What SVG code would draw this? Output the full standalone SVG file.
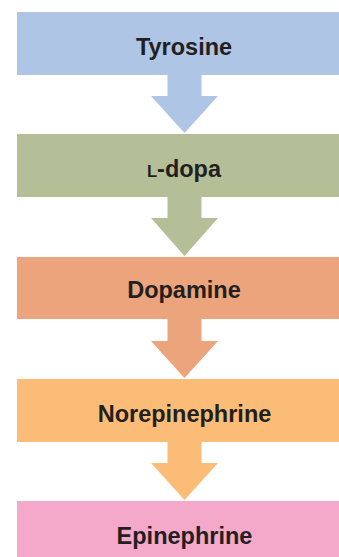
<svg xmlns="http://www.w3.org/2000/svg" width="339" height="557" viewBox="0 0 339 557">
<style>
.lbl{font-family:"Liberation Sans",Arial,sans-serif;font-weight:bold;font-size:23.5px;fill:#231f20;text-anchor:middle}
</style>
<rect width="339" height="557" fill="#ffffff"/>
<g id="connectors">
<path id="a1" d="M167.5,74 H201.5 V96 H218 L184.5,133 L151,96 H167.5 Z" fill="#aec5e6"/>
<path id="a2" d="M167.5,196 H201.5 V218 H218 L184.5,256 L151,218 H167.5 Z" fill="#b5bf97"/>
<path id="a3" d="M167.5,318 H201.5 V341 H218 L184.5,378 L151,341 H167.5 Z" fill="#eba47c"/>
<path id="a4" d="M167.5,441 H201.5 V463 H218 L184.5,500 L151,463 H167.5 Z" fill="#fbbc78"/>
</g>
<g id="tyrosine">
<rect x="17" y="12" width="322" height="63" fill="#aec5e6"/>
<text class="lbl" x="184" y="55">Tyrosine</text>
</g>
<g id="ldopa">
<rect x="17" y="134" width="322" height="63" fill="#b5bf97"/>
<text class="lbl" x="184" y="177"><tspan font-size="16.5">L</tspan>-dopa</text>
</g>
<g id="dopamine">
<rect x="17" y="257" width="322" height="62" fill="#eba47c"/>
<text class="lbl" x="184" y="298">Dopamine</text>
</g>
<g id="norepinephrine">
<rect x="17" y="379" width="322" height="63" fill="#fbbc78"/>
<text class="lbl" x="184.5" y="421.5">Norepinephrine</text>
</g>
<g id="epinephrine">
<rect x="17" y="501" width="322" height="63" fill="#f4a9cb"/>
<text class="lbl" x="184.5" y="543.5">Epinephrine</text>
</g>
</svg>
